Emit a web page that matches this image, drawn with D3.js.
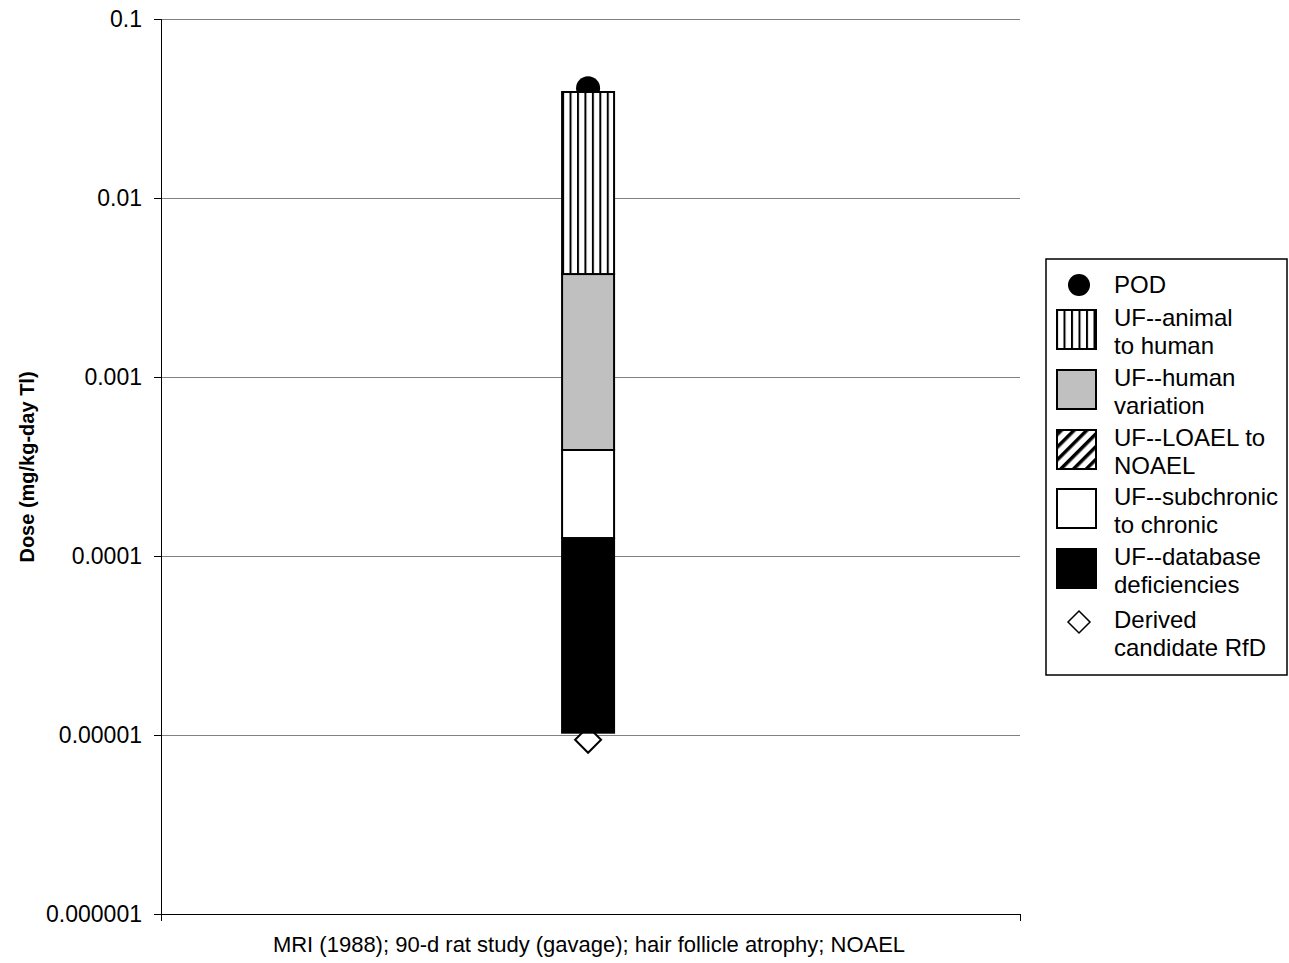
<!DOCTYPE html>
<html><head><meta charset="utf-8">
<script src="https://cdn.jsdelivr.net/npm/d3@7"></script>
<style>body{margin:0;background:#fff} svg{display:block} text{font-family:"Liberation Sans",Arial,sans-serif;fill:#000}</style>
</head><body><svg id="c" width="1289" height="963"></svg>
<script>
const categories = ["MRI (1988); 90-d rat study (gavage); hair follicle atrophy; NOAEL"];
const segmentKeys = ["database","subchronic","loael","human","animal"];
const segmentLow  = [1.03e-5, 1.26e-4, 3.91e-4, 3.91e-4, 3.76e-3];
const segmentHigh = [1.26e-4, 3.91e-4, 3.91e-4, 3.76e-3, 3.91e-2];
const podValues = [0.041];
const rfdValues = [9.4e-6];
const tickValues = [0.1, 0.01, 0.001, 0.0001, 0.00001, 0.000001];
const tickLabels = ["0.1","0.01","0.001","0.0001","0.00001","0.000001"];
const legendKeys = ["pod","animal","human","loael","subchronic","database","rfd"];
const legendLabels = [["POD"],["UF--animal","to human"],["UF--human","variation"],["UF--LOAEL to","NOAEL"],["UF--subchronic","to chronic"],["UF--database","deficiencies"],["Derived","candidate RfD"]];
const yTitle = "Dose (mg/kg-day Tl)";

const svg = d3.select("#c");
const L = 161, R = 1020, T = 19, B = 914;
const y = d3.scaleLog().domain([1e-6, 0.1]).range([B, T]);
const x = d3.scaleBand().domain(categories).range([L, R]).paddingInner(0).paddingOuter(7.76).align(0.497);

const defs = svg.append("defs");
const pv = defs.append("pattern").attr("id","vstripe").attr("patternUnits","userSpaceOnUse")
  .attr("width",7.45).attr("height",10).attr("x",0);
pv.append("rect").attr("width",7.45).attr("height",10).attr("fill","#fff");
pv.append("rect").attr("x",0).attr("width",2).attr("height",10).attr("fill","#000");
const pv2 = defs.append("pattern").attr("id","vstripe2").attr("patternUnits","userSpaceOnUse")
  .attr("width",7.5).attr("height",10).attr("x",1056);
pv2.append("rect").attr("width",7.5).attr("height",10).attr("fill","#fff");
pv2.append("rect").attr("x",0).attr("width",2).attr("height",10).attr("fill","#000");
const pd = defs.append("pattern").attr("id","dstripe").attr("patternUnits","userSpaceOnUse")
  .attr("width",9).attr("height",9).attr("patternTransform","rotate(45)");
pd.append("rect").attr("width",9).attr("height",9).attr("fill","#fff");
pd.append("rect").attr("x",0).attr("width",3.5).attr("height",9).attr("fill","#000");

const fills = {database:"#000", subchronic:"#fff", loael:"url(#dstripe)", human:"#c0c0c0", animal:"url(#vstripe)"};

// gridlines
svg.append("g").selectAll("line").data(tickValues.slice(0,-1)).join("line")
  .attr("x1",L).attr("x2",R).attr("y1",d=>y(d)).attr("y2",d=>y(d))
  .attr("stroke","#808080").attr("stroke-width",1).attr("shape-rendering","crispEdges");

// y axis
const ya = svg.append("g").attr("transform",`translate(${L},0)`)
  .call(d3.axisLeft(y).tickValues(tickValues).tickFormat((d,i)=>tickLabels[i]).tickSize(7).tickPadding(12));
ya.select(".domain").remove();
ya.selectAll(".tick line").attr("stroke","#000").attr("shape-rendering","crispEdges");
ya.selectAll(".tick text").attr("font-size",23).attr("font-family","Liberation Sans, Arial, sans-serif").attr("fill","#000");
svg.append("line").attr("x1",L).attr("x2",L).attr("y1",T).attr("y2",B+7).attr("stroke","#000").attr("shape-rendering","crispEdges");
svg.append("line").attr("x1",L).attr("x2",R).attr("y1",B).attr("y2",B).attr("stroke","#000").attr("shape-rendering","crispEdges");
svg.append("line").attr("x1",R).attr("x2",R).attr("y1",B).attr("y2",B+7).attr("stroke","#000").attr("shape-rendering","crispEdges");

// markers (behind bars)
const cx = c => x(c) + x.bandwidth()/2;
svg.append("g").selectAll("circle").data(podValues).join("circle")
  .attr("cx",(d,i)=>cx(categories[i])).attr("cy",d=>y(d)).attr("r",12).attr("fill","#000");
const diamond = (px,py,h) => `M${px},${py-h}L${px+h},${py}L${px},${py+h}L${px-h},${py}Z`;
svg.append("g").selectAll("path").data(rfdValues).join("path")
  .attr("d",(d,i)=>diamond(cx(categories[i]), y(d), 13)).attr("fill","#fff").attr("stroke","#000").attr("stroke-width",2);

// bars
const bx = x(categories[0]);
pv.attr("x", bx);
svg.append("g").selectAll("rect").data(segmentKeys.map((k,i)=>({k,lo:segmentLow[i],hi:segmentHigh[i]})).filter(d=>d.hi>d.lo)).join("rect")
  .attr("x",bx).attr("width",x.bandwidth())
  .attr("y",d=>y(d.hi)).attr("height",d=>y(d.lo)-y(d.hi))
  .attr("fill",d=>fills[d.k]).attr("stroke","#000").attr("stroke-width",2);

// x title
svg.append("text").attr("x",589).attr("y",952).attr("text-anchor","middle").attr("font-size",22).text(categories[0]);
// y title
svg.append("text").attr("transform","translate(34,467) rotate(-90)").attr("text-anchor","middle")
  .attr("font-size",20).attr("font-weight","bold").text(yTitle);

// legend
const lg = svg.append("g");
lg.append("rect").attr("x",1046).attr("y",259).attr("width",241).attr("height",416).attr("fill","#fff").attr("stroke","#000").attr("stroke-width",1.5);
const line1 = [285, 318, 378, 438, 497, 557, 620];
legendKeys.forEach((k,i)=>{
  const yy = line1[i];
  if (k==="pod") lg.append("circle").attr("cx",1079).attr("cy",yy).attr("r",11).attr("fill","#000");
  else if (k==="rfd") lg.append("path").attr("d",diamond(1079,yy+2,11)).attr("fill","#fff").attr("stroke","#000").attr("stroke-width",1.5);
  else lg.append("rect").attr("x",1057).attr("y",yy-8).attr("width",39).attr("height",39)
     .attr("fill", k==="animal" ? "url(#vstripe2)" : fills[k]).attr("stroke","#000").attr("stroke-width",2);
  legendLabels[i].forEach((t,j)=>{
    lg.append("text").attr("x",1114).attr("y",yy+28*j).attr("dy","0.35em").attr("font-size",24).text(t);
  });
});
</script></body></html>
